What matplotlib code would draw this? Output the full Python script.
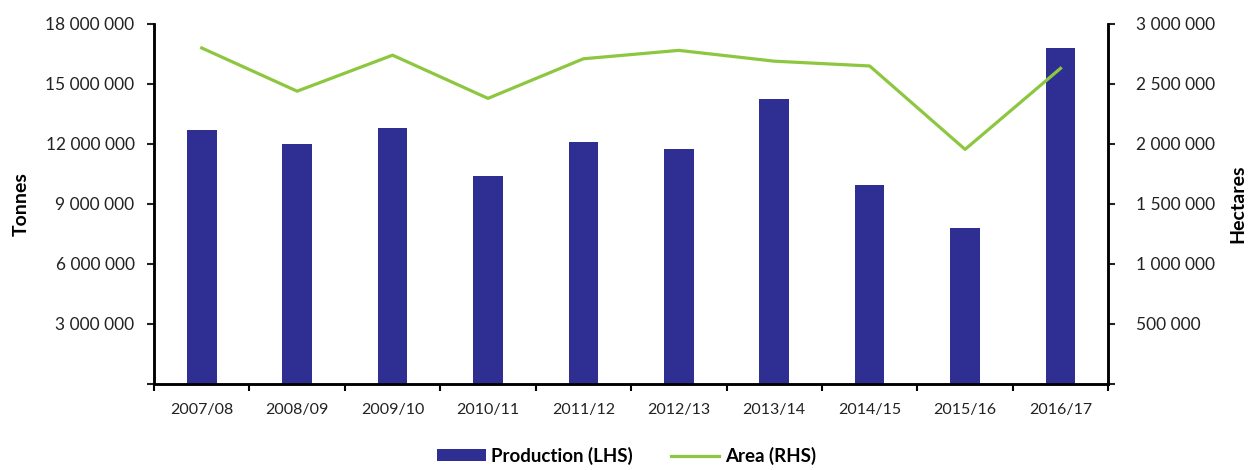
import matplotlib.pyplot as plt
from matplotlib.ticker import FuncFormatter, MultipleLocator
from matplotlib.lines import Line2D
from matplotlib.patches import Patch

plt.rcParams['font.family'] = ['Lato', 'DejaVu Sans']

# Data
seasons = ['2007/08', '2008/09', '2009/10', '2010/11', '2011/12',
           '2012/13', '2013/14', '2014/15', '2015/16', '2016/17']
production = [12700000, 12000000, 12800000, 10400000, 12100000,
              11730000, 14250000, 9950000, 7800000, 16800000]   # tonnes (LHS)
area = [2800000, 2440000, 2740000, 2380000, 2710000,
        2780000, 2690000, 2650000, 1955000, 2630000]            # hectares (RHS)

bar_color = '#2f2e93'
line_color = '#8dc63f'


def spaced(v, pos):
    if v == 0:
        return ''
    return '{:,.0f}'.format(v).replace(',', ' ')


fig = plt.figure(figsize=(12.48, 4.70), dpi=100)
ax = fig.add_axes([0.1234, 0.183, 0.7646, 0.766])
ax2 = ax.twinx()

x = list(range(len(seasons)))
ax.bar(x, production, width=0.31, color=bar_color, zorder=2)
ax2.plot(x, area, color=line_color, linewidth=2.3, zorder=3)

ax.set_xlim(-0.5, len(seasons) - 0.5)
ax.set_ylim(0, 18000000)
ax2.set_ylim(0, 3000000)

ax.yaxis.set_major_locator(MultipleLocator(3000000))
ax2.yaxis.set_major_locator(MultipleLocator(500000))
ax.yaxis.set_major_formatter(FuncFormatter(spaced))
ax2.yaxis.set_major_formatter(FuncFormatter(spaced))

# labels at category centres, tick marks at category boundaries
ax.set_xticks(x)
ax.set_xticklabels(seasons)
ax.set_xticks([i - 0.5 for i in range(len(seasons) + 1)], minor=True)
ax.tick_params(axis='x', which='major', length=0, pad=14, labelsize=11.5, colors='#222222')
ax.tick_params(axis='x', which='minor', length=5, width=1.5, direction='out', color='black')
ax.tick_params(axis='y', length=5, width=1.5, direction='out', pad=9, labelsize=12.5, colors='#222222')
ax2.tick_params(axis='y', length=5, width=1.5, direction='out', pad=15, labelsize=12.5, colors='#222222')
for a in (ax, ax2):
    for t in a.get_yticklines() + a.get_xticklines(minor=True):
        t.set_color('black')

for a in (ax, ax2):
    a.spines['top'].set_visible(False)
    for s in ('left', 'right', 'bottom'):
        a.spines[s].set_linewidth(1.8)
        a.spines[s].set_color('black')

ax.set_ylabel('Tonnes', fontsize=14, fontweight='bold')
ax.yaxis.set_label_coords(-0.13, 0.5)
ax2.set_ylabel('Hectares', fontsize=14, fontweight='bold')
ax2.yaxis.set_label_coords(1.127, 0.5)

handles = [Patch(facecolor=bar_color, edgecolor='none'),
           Line2D([0], [0], color=line_color, linewidth=2.3)]
fig.legend(handles, ['Production (LHS)', 'Area (RHS)'], loc='lower center',
           bbox_to_anchor=(0.502, -0.025), ncol=2, frameon=False,
           prop={'weight': 'bold', 'size': 13.5}, handlelength=2.6,
           handleheight=0.6, columnspacing=2.0, handletextpad=0.3)

fig.savefig('out.png', dpi=100)
